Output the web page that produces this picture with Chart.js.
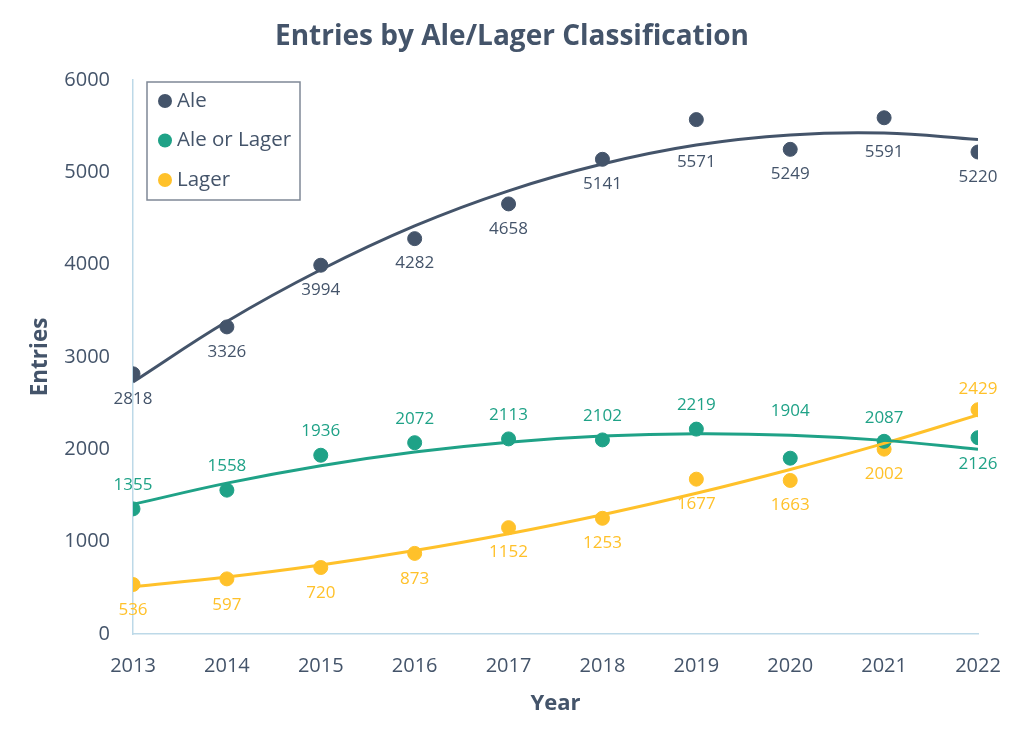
<!DOCTYPE html>
<html>
<head>
<meta charset="utf-8">
<script src="https://cdn.jsdelivr.net/npm/chart.js@4.4.1/dist/chart.umd.min.js"></script>
<style>
  html, body { margin: 0; padding: 0; background: #ffffff; }
  #wrap { width: 1024px; height: 742px; }
</style>
</head>
<body>
<div id="wrap"><canvas id="c" width="1024" height="742"></canvas></div>
<script>
const years = [2013, 2014, 2015, 2016, 2017, 2018, 2019, 2020, 2021, 2022];
const aleValues = [2818, 3326, 3994, 4282, 4658, 5141, 5571, 5249, 5591, 5220];
const mixValues = [1355, 1558, 1936, 2072, 2113, 2102, 2219, 1904, 2087, 2126];
const lagerValues = [536, 597, 720, 873, 1152, 1253, 1677, 1663, 2002, 2429];
// trendline values at each year
const aleTrend = [2730, 3385, 3945, 4420, 4800, 5090, 5295, 5405, 5425, 5355];
const mixTrend = [1404, 1634, 1823, 1971, 2078, 2144, 2169, 2153, 2097, 2000];
const lagerTrend = [512, 618, 748, 904, 1086, 1292, 1524, 1782, 2064, 2372];
const seriesNames = ['Ale', 'Ale or Lager', 'Lager'];
const yTicks = [0, 1000, 2000, 3000, 4000, 5000, 6000];
// label vertical offsets in px (negative = above point)
const aleLabelOffset = [25, 25, 25, 25, 25, 25, 43, 25, 34, 25];
const mixLabelOffset = [-24, -24, -24, -24, -24, -24, -24, -47, -23, 26];
const lagerLabelOffset = [26, 26, 26, 26, 25, 25, 25, 25, 25, -21];

const COLORS = ['#44546A', '#1FA287', '#FFC12A'];
const TEXT = '#44546A';
const AXIS = '#BDD9E8';
const FONT = "'Open Sans', 'DejaVu Sans', sans-serif";

const pts = (vals) => years.map((y, i) => ({x: y, y: vals[i]}));

const datasets = [
  {label: seriesNames[0], data: pts(aleValues), backgroundColor: COLORS[0], borderColor: COLORS[0], pointRadius: 7, pointHoverRadius: 7, showLine: false, order: 2, labelOffset: aleLabelOffset, isSeries: true},
  {label: seriesNames[1], data: pts(mixValues), backgroundColor: COLORS[1], borderColor: COLORS[1], pointRadius: 7, pointHoverRadius: 7, showLine: false, order: 2, labelOffset: mixLabelOffset, isSeries: true},
  {label: seriesNames[2], data: pts(lagerValues), backgroundColor: COLORS[2], borderColor: COLORS[2], pointRadius: 7, pointHoverRadius: 7, showLine: false, order: 2, labelOffset: lagerLabelOffset, isSeries: true},
  {label: 'trend0', data: pts(aleTrend), borderColor: COLORS[0], borderWidth: 3, pointRadius: 0, showLine: true, tension: 0.4, order: 1},
  {label: 'trend1', data: pts(mixTrend), borderColor: COLORS[1], borderWidth: 3, pointRadius: 0, showLine: true, tension: 0.4, order: 1},
  {label: 'trend2', data: pts(lagerTrend), borderColor: COLORS[2], borderWidth: 3, pointRadius: 0, showLine: true, tension: 0.4, order: 1}
];

const labelPlugin = {
  id: 'valueLabels',
  afterDatasetsDraw(chart) {
    const ctx = chart.ctx;
    ctx.save();
    ctx.font = "17px " + FONT;
    ctx.textAlign = 'center';
    ctx.textBaseline = 'middle';
    chart.data.datasets.forEach((ds, di) => {
      if (!ds.isSeries) return;
      const meta = chart.getDatasetMeta(di);
      ctx.fillStyle = ds.borderColor;
      meta.data.forEach((el, i) => {
        ctx.fillText(String(ds.data[i].y), el.x, el.y + ds.labelOffset[i]);
      });
    });
    ctx.restore();
  }
};

const legendPlugin = {
  id: 'boxLegend',
  afterDraw(chart) {
    const ctx = chart.ctx;
    const a = chart.chartArea;
    const x = a.left + 14, y = a.top + 2, w = 153, h = 118;
    ctx.save();
    ctx.fillStyle = '#ffffff';
    ctx.fillRect(x, y, w, h);
    ctx.strokeStyle = '#7F8896';
    ctx.lineWidth = 1.5;
    ctx.strokeRect(x, y, w, h);
    ctx.font = "20.5px " + FONT;
    ctx.textBaseline = 'middle';
    ctx.textAlign = 'left';
    const series = chart.data.datasets.filter(d => d.isSeries);
    series.forEach((ds, i) => {
      const cy = y + 19 + i * 39.5;
      ctx.fillStyle = ds.backgroundColor;
      ctx.beginPath();
      ctx.arc(x + 18, cy, 7, 0, Math.PI * 2);
      ctx.fill();
      ctx.fillStyle = TEXT;
      ctx.fillText(ds.label, x + 30, cy);
    });
    ctx.restore();
  }
};

new Chart(document.getElementById('c'), {
  type: 'scatter',
  data: {datasets},
  plugins: [labelPlugin, legendPlugin],
  options: {
    responsive: false,
    animation: false,
    events: [],
    layout: {padding: {left: 0, right: 0, top: 0, bottom: 0}},
    plugins: {
      legend: {display: false},
      tooltip: {enabled: false},
      title: {
        display: true,
        text: 'Entries by Ale/Lager Classification',
        color: TEXT,
        font: {family: FONT, size: 28, weight: 'bold', lineHeight: 1.2},
        padding: {top: 20, bottom: 26.4}
      }
    },
    scales: {
      x: {
        type: 'linear',
        min: 2013, max: 2022,
        afterBuildTicks: (s) => { s.ticks = years.map(v => ({value: v})); },
        ticks: {color: TEXT, font: {family: FONT, size: 20}, padding: 20, maxRotation: 0, callback: (v) => String(v)},
        grid: {display: false, drawTicks: false},
        border: {display: true, color: AXIS, width: 1.5},
        title: {display: true, text: 'Year', color: TEXT, font: {family: FONT, size: 22, weight: 'bold'}, padding: {top: 0, bottom: 25}},
        afterFit: (s) => { s.height = 108; }
      },
      y: {
        type: 'linear',
        position: 'left',
        min: 0, max: 6000,
        afterBuildTicks: (s) => { s.ticks = yTicks.map(v => ({value: v})); },
        ticks: {color: TEXT, font: {family: FONT, size: 20}, padding: 23, callback: (v) => String(v)},
        grid: {display: false, drawTicks: false},
        border: {display: true, color: AXIS, width: 1.5},
        title: {display: true, text: 'Entries', color: TEXT, font: {family: FONT, size: 22.5, weight: 'bold'}, padding: {top: 27, bottom: 0}},
        afterFit: (s) => { s.width = 133; }
      },
      yRight: {
        type: 'linear',
        position: 'right',
        min: 0, max: 6000,
        ticks: {display: false},
        grid: {display: false, drawTicks: false},
        border: {display: false},
        afterFit: (s) => { s.width = 46; }
      }
    }
  }
});
</script>
</body>
</html>
